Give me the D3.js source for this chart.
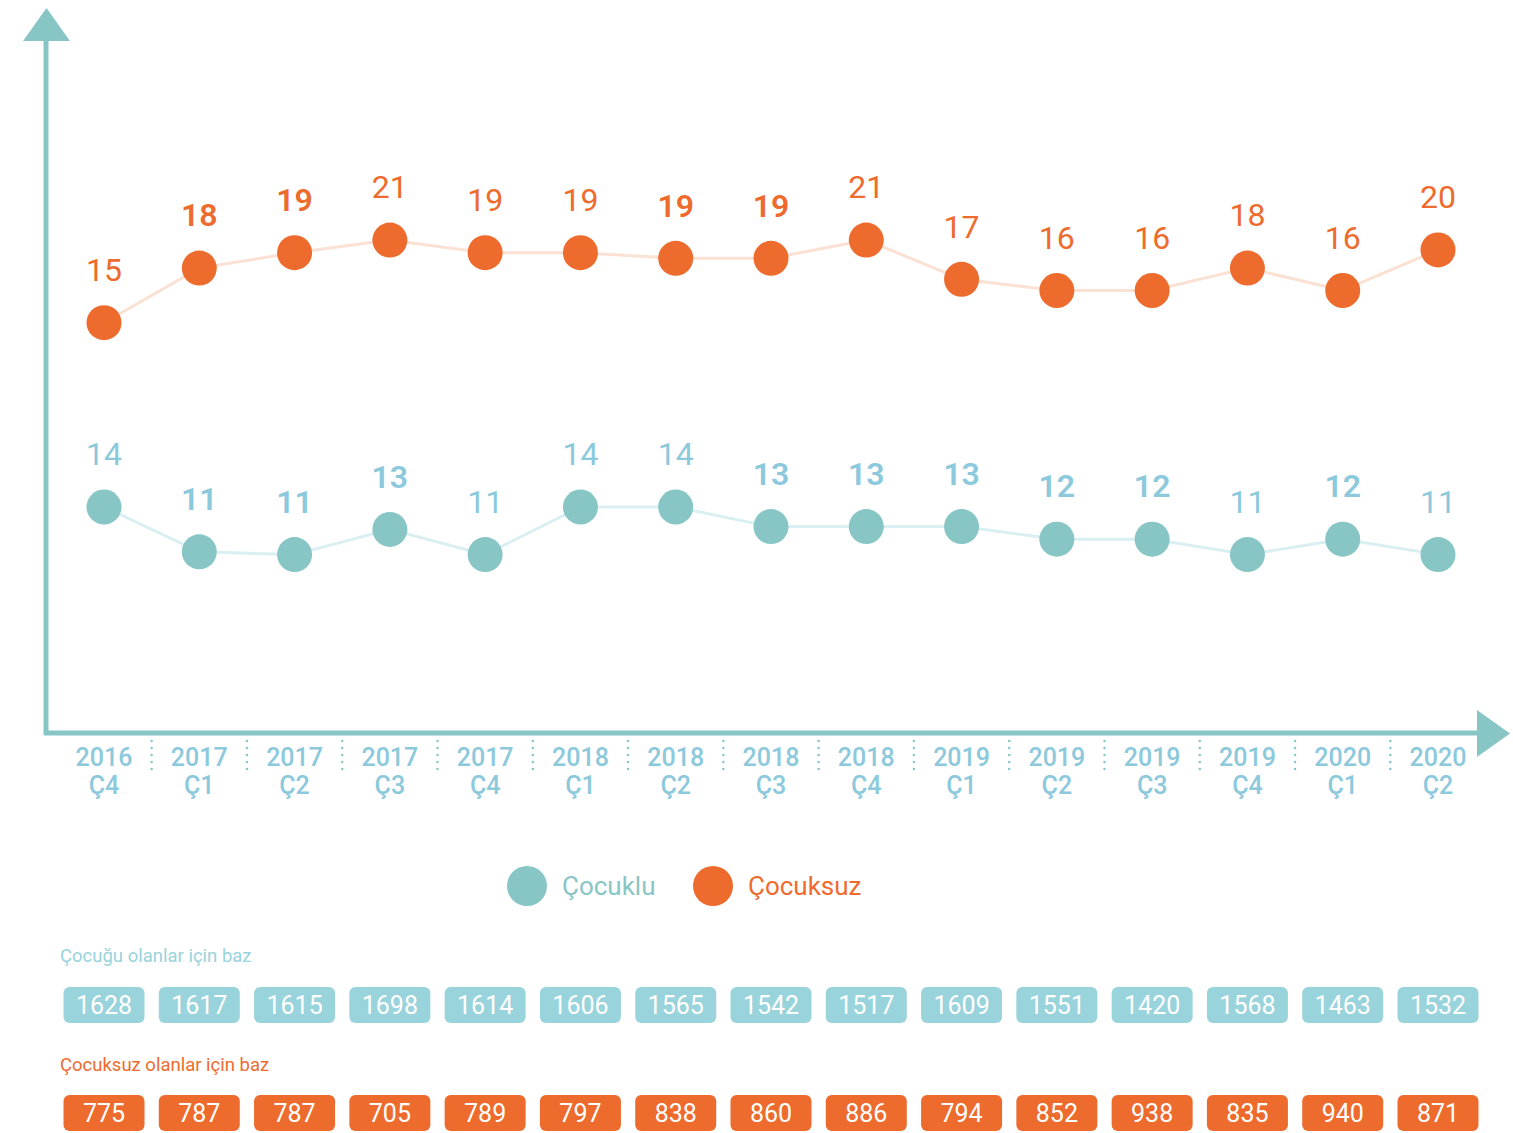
<!DOCTYPE html>
<html>
  <head>
    <meta charset="utf-8">
    <title>Çocuklu / Çocuksuz</title>
    <script src="https://d3js.org/d3.v7.min.js"></script>
    <style>
      body { margin: 0; background: #fff; }
      text { font-family: Roboto, "Noto Sans", sans-serif; }
    </style>
  </head>
  <body>
    <script>
      // categories (year / quarter)
      var years = ["2016", "2017", "2017", "2017", "2017", "2018", "2018", "2018", "2018", "2019", "2019", "2019", "2019", "2020", "2020"],
        quarters = ["Ç4", "Ç1", "Ç2", "Ç3", "Ç4", "Ç1", "Ç2", "Ç3", "Ç4", "Ç1", "Ç2", "Ç3", "Ç4", "Ç1", "Ç2"];

      // plotted values, estimated from the picture, and the printed labels
      var cocukluValues = [14.0, 10.8, 10.6, 12.4, 10.6, 14.0, 14.0, 12.6, 12.6, 12.6, 11.7, 11.7, 10.6, 11.7, 10.6],
        cocukluLabels = [14, 11, 11, 13, 11, 14, 14, 13, 13, 13, 12, 12, 11, 12, 11],
        cocukluSig = [0, 1, 1, 1, 0, 0, 0, 1, 1, 1, 1, 1, 0, 1, 0];

      var cocuksuzValues = [14.2, 18.1, 19.2, 20.1, 19.2, 19.2, 18.8, 18.8, 20.1, 17.3, 16.5, 16.5, 18.1, 16.5, 19.4],
        cocuksuzLabels = [15, 18, 19, 21, 19, 19, 19, 19, 21, 17, 16, 16, 18, 16, 20],
        cocuksuzSig = [0, 1, 1, 0, 0, 0, 1, 1, 0, 0, 0, 0, 0, 0, 0];

      // base sizes
      var cocukluBase = [1628, 1617, 1615, 1698, 1614, 1606, 1565, 1542, 1517, 1609, 1551, 1420, 1568, 1463, 1532],
        cocuksuzBase = [775, 787, 787, 705, 789, 797, 838, 860, 886, 794, 852, 938, 835, 940, 871];

      var teal = "#88c6c6",
        tealText = "#8cc9dc",
        tealBox = "#99d3dc",
        orange = "#ee6b2e";

      var width = 1513, height = 1133;

      var svg = d3.select("body").append("svg")
        .attr("width", width)
        .attr("height", height);

      var idx = d3.range(years.length);

      var x = d3.scalePoint()
        .domain(idx)
        .range([104, 1438]);

      // each series sits in its own band
      var yOrange = d3.scaleLinear().domain([14, 21]).range([325.5, 227.5]);
      var yTeal = d3.scaleLinear().domain([10, 14]).range([563, 507]);

      // axes with arrow heads
      var axis = svg.append("g");
      axis.append("line")
        .attr("x1", 46).attr("x2", 46)
        .attr("y1", 36).attr("y2", 735)
        .attr("stroke", teal).attr("stroke-width", 5);
      axis.append("line")
        .attr("x1", 44).attr("x2", 1480)
        .attr("y1", 733).attr("y2", 733)
        .attr("stroke", teal).attr("stroke-width", 5);
      axis.append("path")
        .attr("d", "M23,41L70,41L46.5,8Z")
        .attr("fill", teal);
      axis.append("path")
        .attr("d", "M1477,710L1477,757L1510,733.5Z")
        .attr("fill", teal);

      // category labels
      var cat = svg.append("g")
        .attr("font-size", 25)
        .attr("font-weight", 500)
        .attr("fill", tealText)
        .attr("text-anchor", "middle");
      cat.selectAll(".yr")
        .data(idx)
        .enter().append("text")
          .attr("x", function(i) { return x(i); })
          .attr("y", 766)
          .text(function(i) { return years[i]; });
      cat.selectAll(".q")
        .data(idx)
        .enter().append("text")
          .attr("x", function(i) { return x(i); })
          .attr("y", 794)
          .text(function(i) { return quarters[i]; });

      // dotted separators between categories
      svg.append("g").selectAll("line")
        .data(idx.slice(1))
        .enter().append("line")
          .attr("x1", function(i) { return (x(i) + x(i - 1)) / 2; })
          .attr("x2", function(i) { return (x(i) + x(i - 1)) / 2; })
          .attr("y1", 741).attr("y2", 774)
          .attr("stroke", teal)
          .attr("stroke-width", 2.5)
          .attr("stroke-linecap", "round")
          .attr("stroke-dasharray", "0,7");

      function drawSeries(values, labels, sig, y, dotColor, lineColor, labelColor) {
        var g = svg.append("g");
        var line = d3.line()
          .x(function(d, i) { return x(i); })
          .y(function(d) { return y(d); });
        g.append("path")
          .datum(values)
          .attr("d", line)
          .attr("fill", "none")
          .attr("stroke", lineColor)
          .attr("stroke-width", 3);
        g.selectAll("circle")
          .data(values)
          .enter().append("circle")
            .attr("cx", function(d, i) { return x(i); })
            .attr("cy", function(d) { return y(d); })
            .attr("r", 17.5)
            .attr("fill", dotColor);
        g.selectAll("text")
          .data(values)
          .enter().append("text")
            .attr("x", function(d, i) { return x(i); })
            .attr("y", function(d) { return y(d) - 53; })
            .attr("dy", "0.35em")
            .attr("text-anchor", "middle")
            .attr("font-size", 32)
            .attr("font-weight", function(d, i) { return sig[i] ? 600 : 400; })
            .attr("fill", labelColor)
            .text(function(d, i) { return labels[i]; });
      }

      drawSeries(cocuksuzValues, cocuksuzLabels, cocuksuzSig, yOrange, orange, "#fbe1d3", orange);
      drawSeries(cocukluValues, cocukluLabels, cocukluSig, yTeal, teal, "#d9eff1", tealText);

      // legend
      var legend = svg.append("g").attr("font-size", 26);
      legend.append("circle").attr("cx", 527).attr("cy", 886).attr("r", 20).attr("fill", teal);
      legend.append("text").attr("x", 562).attr("y", 895).attr("fill", teal).text("Çocuklu");
      legend.append("circle").attr("cx", 713).attr("cy", 886).attr("r", 20).attr("fill", orange);
      legend.append("text").attr("x", 748).attr("y", 895).attr("fill", orange).text("Çocuksuz");

      // base tables
      function drawBase(title, values, titleY, boxY, color) {
        var g = svg.append("g");
        g.append("text")
          .attr("x", 60).attr("y", titleY)
          .attr("font-size", 18.5)
          .attr("fill", color)
          .text(title);
        var cell = g.selectAll("g")
          .data(values)
          .enter().append("g")
            .attr("transform", function(d, i) { return "translate(" + x(i) + "," + boxY + ")"; });
        cell.append("rect")
          .attr("x", -40.5).attr("y", 0)
          .attr("width", 81).attr("height", 36)
          .attr("rx", 6)
          .attr("fill", color);
        cell.append("text")
          .attr("y", 18)
          .attr("dy", "0.35em")
          .attr("text-anchor", "middle")
          .attr("font-size", 25)
          .attr("fill", "#fff")
          .text(function(d) { return d; });
      }

      drawBase("Çocuğu olanlar için baz", cocukluBase, 962, 987, tealBox);
      drawBase("Çocuksuz olanlar için baz", cocuksuzBase, 1071, 1095, orange);
    </script>
  </body>
</html>
